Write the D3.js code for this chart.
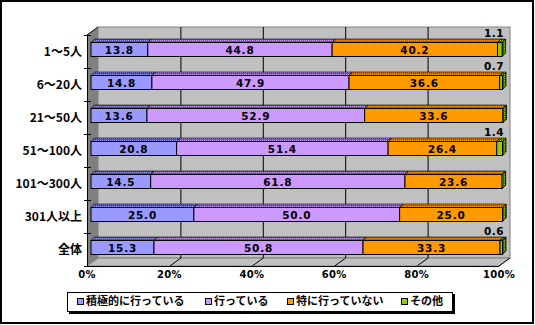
<!DOCTYPE html>
<html><head><meta charset="utf-8">
<script src="https://cdn.jsdelivr.net/npm/d3@7/dist/d3.min.js"></script>
<style>body{margin:0;background:#fff}svg{display:block}</style>
</head><body>
<script>
const categories = ["1～5人","6～20人","21～50人","51～100人","101～300人","301人以上","全体"];
const seriesNames = ["積極的に行っている","行っている","特に行っていない","その他"];
const s1 = [13.8,14.8,13.6,20.8,14.5,25.0,15.3];
const s2 = [44.8,47.9,52.9,51.4,61.8,50.0,50.8];
const s3 = [40.2,36.6,33.6,26.4,23.6,25.0,33.3];
const s4 = [1.1,0.7,0,1.4,0,0,0.6];
const ticks = [0,20,40,60,80,100];
const tickLabels = ["0%","20%","40%","60%","80%","100%"];
const colors = ["#9999ff","#cc99ff","#ff9900","#99cc00"];
const darks  = ["#4d4db3","#7a4db3","#b36200","#3d5c00"];

const W=535,H=325;
const svg=d3.select("body").append("svg").attr("width",W).attr("height",H);
const defs=svg.append("defs");
colors.forEach((c,i)=>{
  const p=defs.append("pattern").attr("id","pt"+i).attr("width",2).attr("height",2).attr("patternUnits","userSpaceOnUse");
  p.append("rect").attr("width",2).attr("height",2).attr("fill",darks[i]);
  p.append("rect").attr("width",1).attr("height",1).attr("fill",c);
});

// frame
svg.append("rect").attr("x",1).attr("y",1).attr("width",532).attr("height",322).attr("fill","#fff").attr("stroke","#000").attr("stroke-width",2);

const DX=11, DY=8;
const xFront=d3.scaleLinear().domain([0,100]).range([87,499]);
const xBack=d3.scaleLinear().domain([0,100]).range([87+DX,499+DX]);
const xBar=d3.scaleLinear().domain([0,100]).range([91,502.5]);
const y=d3.scaleBand().domain(categories).range([35,266]);
const yTop=35, yBot=266;

// left wall
svg.append("polygon").attr("points",[[87,yTop],[87+DX,yTop-DY],[87+DX,yBot-DY],[87,yBot]].join(" ")).attr("fill","#808080");
// back wall
svg.append("rect").attr("x",xBack(0)).attr("y",yTop-DY).attr("width",xBack(100)-xBack(0)).attr("height",yBot-yTop)
  .attr("fill","#c0c0c0").attr("stroke","#808080").attr("stroke-width",1);
// floor
svg.append("polygon").attr("points",[[87,yBot],[87+DX,yBot-DY],[xBack(100),yBot-DY],[xFront(100),yBot]].join(" "))
  .attr("fill","#c0c0c0").attr("stroke","#808080").attr("stroke-width",1);
// gridlines
ticks.slice(1,5).forEach(t=>{
  svg.append("line").attr("x1",xBack(t)+0.5).attr("x2",xBack(t)+0.5).attr("y1",yTop-DY).attr("y2",yBot-DY).attr("stroke","#000");
  svg.append("line").attr("x1",xBack(t)+0.5).attr("y1",yBot-DY).attr("x2",xFront(t)+0.5).attr("y2",yBot).attr("stroke","#000");
});
svg.append("line").attr("x1",xBack(100)).attr("y1",yBot-DY).attr("x2",xFront(100)).attr("y2",yBot).attr("stroke","#000");
// axes lines
svg.append("line").attr("x1",87.5).attr("x2",87.5).attr("y1",yTop).attr("y2",yBot).attr("stroke","#000");
svg.append("line").attr("x1",87).attr("x2",xFront(100)).attr("y1",yBot+0.5).attr("y2",yBot+0.5).attr("stroke","#000");
svg.append("line").attr("x1",87).attr("y1",yTop).attr("x2",87+DX).attr("y2",yTop-DY).attr("stroke","#000");
// y ticks
categories.forEach((c,i)=>{
  const yy=y(c);
  svg.append("line").attr("x1",84).attr("x2",91).attr("y1",yy+0.5).attr("y2",yy+0.5).attr("stroke","#000");
});
svg.append("line").attr("x1",84).attr("x2",91).attr("y1",yBot+0.5).attr("y2",yBot+0.5).attr("stroke","#000");

// category labels
svg.append("g").selectAll("text").data(categories).join("text")
  .attr("x",82).attr("y",c=>y(c)+y.bandwidth()/2+1).attr("text-anchor","end").attr("dominant-baseline","middle")
  .attr("font-family","'Noto Sans CJK JP'").attr("font-weight","bold").attr("font-size",12).text(c=>c);

// x tick labels
svg.append("g").selectAll("text").data(ticks).join("text")
  .attr("x",t=>xFront(t)).attr("y",278).attr("text-anchor","middle")
  .attr("font-family","'DejaVu Sans'").attr("font-weight","bold").attr("font-size",10).attr("letter-spacing",0.3)
  .text((t,i)=>tickLabels[i]);

const series=[s1,s2,s3,s4];
const BD=3.5, BH=14;
categories.forEach((c,i)=>{
  const cy=y(c)+y.bandwidth()/2;
  const fTop=cy-9, fBot=fTop+BH;
  // その他 label
  if(s4[i]>0){
    svg.append("text").attr("x",504).attr("y",fTop-BD-2).attr("text-anchor","end")
      .attr("font-family","'DejaVu Sans'").attr("font-weight","bold").attr("font-size",10.5).attr("letter-spacing",0.5)
      .text(s4[i].toFixed(1));
  }
  let acc=0;
  series.forEach((s,k)=>{
    const x0=xBar(acc), x1=xBar(acc+s[i]); acc+=s[i];
    const g=svg.append("g");
    g.append("polygon").attr("points",[[x0,fTop],[x0+BD,fTop-BD],[x1+BD,fTop-BD],[x1,fTop]].join(" "))
      .attr("fill","url(#pt"+k+")").attr("stroke","#000").attr("stroke-width",0.6);
    g.append("polygon").attr("points",[[x1,fTop],[x1+BD,fTop-BD],[x1+BD,fBot-BD],[x1,fBot]].join(" "))
      .attr("fill","url(#pt"+k+")").attr("stroke","#000").attr("stroke-width",0.8);
    g.append("rect").attr("x",x0).attr("y",fTop).attr("width",Math.max(0,x1-x0)).attr("height",BH)
      .attr("fill",colors[k]).attr("stroke","#000").attr("stroke-width",1);
    if(k<3){
      g.append("text").attr("x",(x0+x1)/2).attr("y",fTop+BH/2).attr("text-anchor","middle").attr("dominant-baseline","central")
        .attr("font-family","'DejaVu Sans'").attr("font-weight","bold").attr("font-size",10.5).attr("letter-spacing",0.8)
        .text(s[i].toFixed(1));
    }
  });
});

// legend
const lg=svg.append("g");
lg.append("rect").attr("x",69).attr("y",294).attr("width",386).attr("height",20).attr("fill","#000");
lg.append("rect").attr("x",67.5).attr("y",292.5).attr("width",385).attr("height",19).attr("fill","#fff").attr("stroke","#000");
const lx=[77,205,287,401];
seriesNames.forEach((n,k)=>{
  lg.append("rect").attr("x",lx[k]+0.5).attr("y",298.5).attr("width",6).attr("height",6).attr("fill",colors[k]).attr("stroke","#000");
  lg.append("text").attr("x",lx[k]+9).attr("y",302).attr("dominant-baseline","middle")
    .attr("font-family","'Noto Sans CJK JP'").attr("font-weight","bold").attr("font-size",11).text(n);
});
</script>
</body></html>
